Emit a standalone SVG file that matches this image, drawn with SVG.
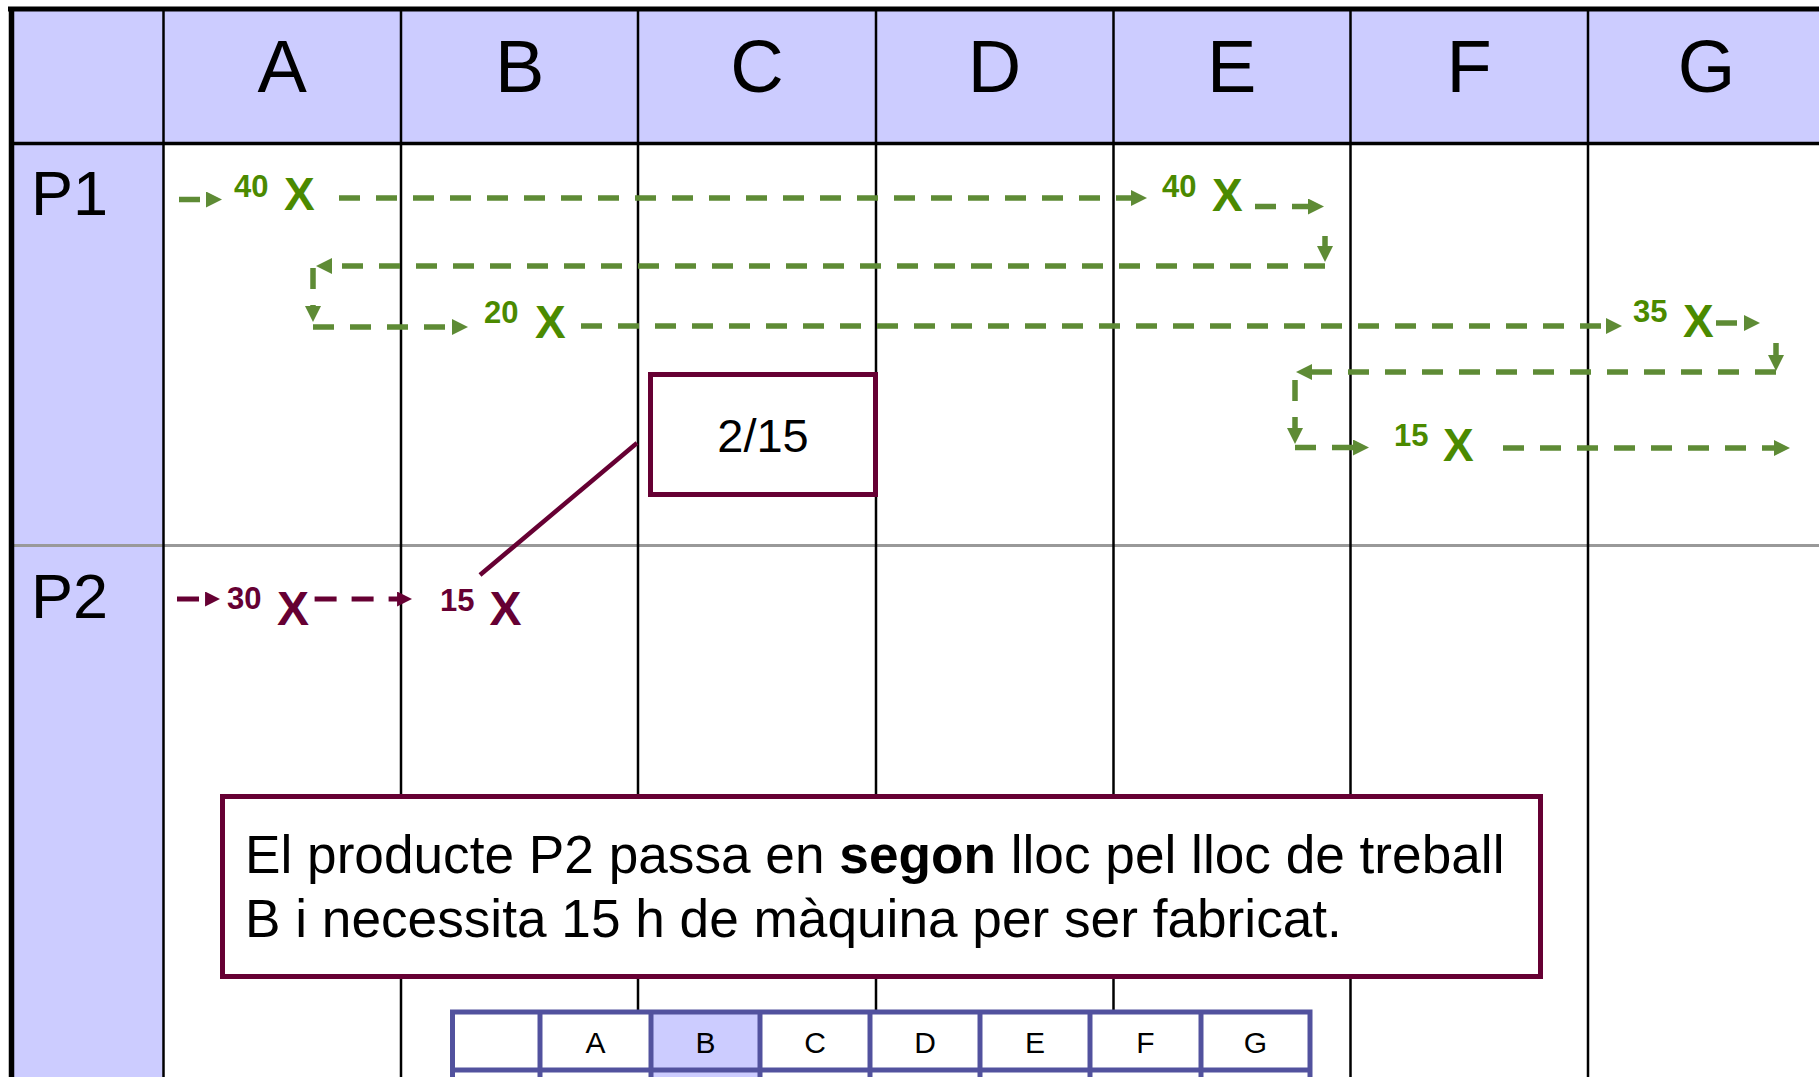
<svg xmlns="http://www.w3.org/2000/svg" width="1819" height="1077" viewBox="0 0 1819 1077">
<style>
.hdr{font-family:"Liberation Sans",Arial,sans-serif;font-size:74px;fill:#000;text-anchor:middle}
.row{font-family:"Liberation Sans",Arial,sans-serif;font-size:63px;fill:#000}
.grid{stroke:#000;stroke-width:2.5;fill:none}
.gnum{font-family:"Liberation Sans",Arial,sans-serif;font-weight:bold;font-size:31px;fill:#4B8A00}
.gx{font-family:"Liberation Sans",Arial,sans-serif;font-weight:bold;font-size:46px;fill:#4B8A00}
.mnum{font-family:"Liberation Sans",Arial,sans-serif;font-weight:bold;font-size:31px;fill:#660033}
.mx{font-family:"Liberation Sans",Arial,sans-serif;font-weight:bold;font-size:48px;fill:#660033}
.gc{fill:none;stroke:#5E8B35;stroke-width:5.5;stroke-dasharray:21 16;marker-end:url(#ga)}
.mc{fill:none;stroke:#660033;stroke-width:5;stroke-dasharray:22 15;marker-end:url(#ma)}
.box{fill:#fff;stroke:#660033;stroke-width:5}
.body{font-family:"Liberation Sans",Arial,sans-serif;font-size:53.2px;fill:#000}
.mini{font-family:"Liberation Sans",Arial,sans-serif;font-size:30px;fill:#000;text-anchor:middle}
.mt{stroke:#52529E;stroke-width:5;fill:none}
</style>
<defs>
<marker id="ga" viewBox="0 0 16 16" refX="1" refY="8" markerWidth="16" markerHeight="16" markerUnits="userSpaceOnUse" orient="auto"><path d="M0,0 L16,8 L0,16 z" fill="#5E8B35"/></marker>
<marker id="ma" viewBox="0 0 16 16" refX="1" refY="8" markerWidth="15" markerHeight="15" markerUnits="userSpaceOnUse" orient="auto"><path d="M0,0 L16,8 L0,16 z" fill="#660033"/></marker>
</defs>
<rect x="0" y="0" width="1819" height="1077" fill="#fff"/>
<g id="table">
<rect x="12" y="11" width="1807" height="132" fill="#CCCCFF"/>
<rect x="12" y="143" width="151.5" height="934" fill="#CCCCFF"/>
<line x1="12" y1="545.5" x2="1819" y2="545.5" stroke="#999" stroke-width="3"/>
<line class="grid" x1="163.5" y1="9" x2="163.5" y2="1077" stroke-width="3"/>
<line class="grid" x1="401" y1="9" x2="401" y2="1077"/>
<line class="grid" x1="638" y1="9" x2="638" y2="1077"/>
<line class="grid" x1="876" y1="9" x2="876" y2="1077"/>
<line class="grid" x1="1113.5" y1="9" x2="1113.5" y2="1077"/>
<line class="grid" x1="1350.5" y1="9" x2="1350.5" y2="1077"/>
<line class="grid" x1="1588" y1="9" x2="1588" y2="1077"/>
<line x1="10" y1="143.5" x2="1819" y2="143.5" stroke="#000" stroke-width="3.5"/>
<line x1="8" y1="9" x2="1819" y2="9" stroke="#000" stroke-width="5"/>
<line x1="11.5" y1="7" x2="11.5" y2="1077" stroke="#000" stroke-width="5.5"/>
<text class="hdr" x="282.2" y="92">A</text>
<text class="hdr" x="519.6" y="92">B</text>
<text class="hdr" x="757" y="92">C</text>
<text class="hdr" x="994.4" y="92">D</text>
<text class="hdr" x="1231.8" y="92">E</text>
<text class="hdr" x="1469.2" y="92">F</text>
<text class="hdr" x="1706.6" y="92">G</text>
<text class="row" x="31" y="215">P1</text>
<text class="row" x="31" y="618">P2</text>
</g>
<g id="connectors">
<path class="gc" d="M179,199.5 H207"/>
<path class="gc" d="M339,198 H1132"/>
<path class="gc" d="M1255,206.5 H1309"/>
<path class="gc" d="M1325,236 V247"/>
<path class="gc" d="M1325,266 H331"/>
<path class="gc" d="M313,268 V307"/>
<path class="gc" d="M313,327 H453"/>
<path class="gc" d="M581,326 H1607"/>
<path class="gc" d="M1716,323 H1745"/>
<path class="gc" d="M1776,343 V356"/>
<path class="gc" d="M1776,372 H1311"/>
<path class="gc" d="M1295,380 V429"/>
<path class="gc" d="M1295,447.5 H1354"/>
<path class="gc" d="M1503,448 H1775"/>
<path class="mc" d="M177,599 H206"/>
<path class="mc" d="M314.6,599 H398"/>
<line x1="480" y1="575" x2="637" y2="443" stroke="#660033" stroke-width="4.5"/>
</g>
<g id="p1-steps">
<text class="gnum" x="234" y="197">40</text>
<text class="gx" x="284" y="210">X</text>
<text class="gnum" x="1162" y="197">40</text>
<text class="gx" x="1212" y="211">X</text>
<text class="gnum" x="484" y="323">20</text>
<text class="gx" x="535" y="338">X</text>
<text class="gnum" x="1633" y="322">35</text>
<text class="gx" x="1683" y="337">X</text>
<text class="gnum" x="1394" y="446">15</text>
<text class="gx" x="1443" y="461">X</text>
</g>
<g id="p2-steps">
<text class="mnum" x="227" y="609">30</text>
<text class="mx" x="277" y="625">X</text>
<text class="mnum" x="440" y="611">15</text>
<text class="mx" x="489.5" y="625">X</text>
</g>
<g id="callout-215">
<rect class="box" x="650.5" y="374.5" width="225" height="120"/>
<text x="763" y="452" font-family="Liberation Sans, Arial, sans-serif" font-size="47" text-anchor="middle" fill="#000">2/15</text>
</g>
<g id="note">
<rect class="box" x="222.5" y="796.5" width="1318" height="180"/>
<text class="body" x="245" y="873">El producte P2 passa en <tspan font-weight="bold">segon</tspan> lloc pel lloc de treball</text>
<text class="body" x="245" y="937">B i necessita 15 h de màquina per ser fabricat.</text>
</g>
<g id="mini-table">
<rect x="452.5" y="1012" width="857.5" height="100" fill="#fff"/>
<rect x="651" y="1012" width="109" height="70" fill="#CCCCFF"/>
<rect class="mt" x="452.5" y="1012" width="857.5" height="100"/>
<line class="mt" x1="540" y1="1012" x2="540" y2="1077"/>
<line class="mt" x1="651" y1="1012" x2="651" y2="1077"/>
<line class="mt" x1="760" y1="1012" x2="760" y2="1077"/>
<line class="mt" x1="870" y1="1012" x2="870" y2="1077"/>
<line class="mt" x1="980" y1="1012" x2="980" y2="1077"/>
<line class="mt" x1="1090" y1="1012" x2="1090" y2="1077"/>
<line class="mt" x1="1201" y1="1012" x2="1201" y2="1077"/>
<line class="mt" x1="452.5" y1="1070" x2="1310" y2="1070"/>
<text class="mini" x="595.5" y="1053">A</text>
<text class="mini" x="705.5" y="1053">B</text>
<text class="mini" x="815" y="1053">C</text>
<text class="mini" x="925" y="1053">D</text>
<text class="mini" x="1035" y="1053">E</text>
<text class="mini" x="1145.5" y="1053">F</text>
<text class="mini" x="1255.5" y="1053">G</text>
</g>
</svg>
